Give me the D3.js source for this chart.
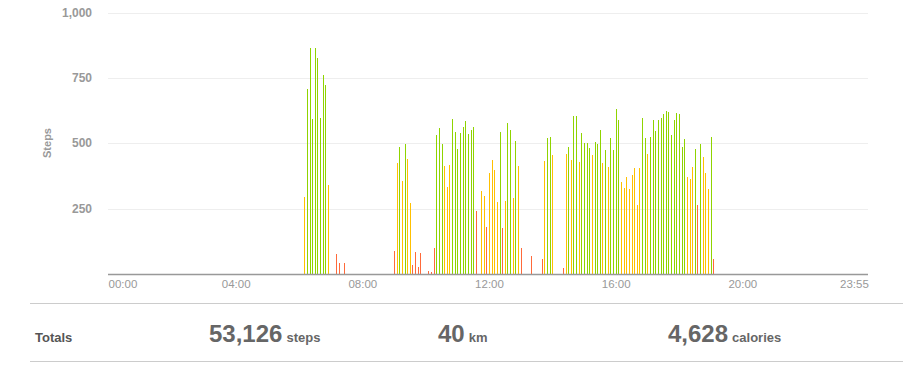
<!DOCTYPE html>
<html>
<head>
<meta charset="utf-8">
<script src="https://cdn.jsdelivr.net/npm/d3@7"></script>
<style>
  body { margin: 0; background: #fff; font-family: "Liberation Sans", Arial, sans-serif; }
  #canvas { width: 924px; height: 373px; }
</style>
</head>
<body>
<div id="canvas"></div>
<script>
// 5-minute buckets that have steps (HH:MM start of bucket)
const times = [
  "06:10","06:15","06:20","06:25","06:30","06:35","06:40","06:45","06:50","06:55","07:10","07:15","07:25",
  "09:00","09:05","09:10","09:15","09:20","09:25","09:30","09:35","09:40","09:45","09:50",
  "10:05","10:10","10:15","10:20","10:25","10:30","10:35","10:40","10:45","10:50","10:55",
  "11:00","11:05","11:10","11:15","11:20","11:25","11:30","11:35","11:45","11:50","11:55",
  "12:00","12:05","12:10","12:15","12:20","12:25","12:30","12:35","12:40","12:45","12:50","12:55",
  "13:00","13:20","13:40","13:45","13:50","13:55","14:00","14:20","14:25","14:30","14:35","14:40","14:45","14:50","14:55",
  "15:00","15:05","15:10","15:15","15:20","15:25","15:30","15:35","15:40","15:45","15:50","15:55",
  "16:00","16:05","16:10","16:15","16:20","16:25","16:30","16:35","16:40","16:45",
  "16:50","16:55","17:00","17:05","17:10","17:15","17:20","17:25","17:30","17:35","17:40","17:45",
  "17:50","17:55","18:00","18:05","18:10","18:15","18:20","18:25","18:30","18:35","18:40","18:45","18:50","18:55","19:00","19:05"
];
const steps = [
  296,707,864,593,864,826,597,761,723,340,76,42,42,
  88,426,486,357,498,440,272,36,84,28,80,
  11,8,99,533,558,497,414,333,417,593,543,
  478,539,562,585,535,551,562,241,317,298,180,
  386,436,398,275,543,176,279,577,551,291,509,413,
  99,69,57,432,520,524,455,23,459,486,436,604,604,428,539,
  501,501,482,455,505,497,551,424,474,409,520,
  474,631,589,352,329,371,325,379,405,264,405,
  597,520,459,524,589,547,589,597,612,623,619,532,
  589,616,612,486,516,371,363,409,478,264,497,447,386,325,524,57
];
// activity intensity per bucket: g = brisk, y = moderate, r = light
const intensity = [
  "y","g","g","g","g","g","g","g","g","y","r","r","r",
  "r","y","g","y","g","y","y","r","r","r","r",
  "r","r","r","g","g","g","y","y","y","g","g",
  "g","g","g","g","g","g","g","r","y","y","r",
  "y","y","y","y","g","r","y","g","g","y","g","y",
  "r","r","r","y","g","g","y","r","y","g","y","g","g","y","g",
  "g","g","g","y","g","g","g","y","g","y","g",
  "g","g","g","y","y","y","y","y","y","y","y",
  "g","g","y","g","g","g","g","g","g","g","g","g",
  "g","g","g","g","g","y","y","y","g","r","g","y","y","y","g","r"
];
const tickTimes = ["00:00","04:00","08:00","12:00","16:00","20:00","23:55"];
const yTicks = [250, 500, 750, 1000];
const totalsLabels = ["53,126", "40", "4,628"];
const totalsUnits = ["steps", "km", "calories"];

const colors = { g: "#8fd400", y: "#ffc000", r: "#ff6a3a" };

const toMinutes = (t) => {
    const p = t.split(":");
    return +p[0] * 60 + +p[1];
}

const data = times.map((t, i) => ({ t: toMinutes(t), v: steps[i], c: intensity[i] }));

const width = 924, height = 373;
const svg = d3.select("#canvas").append("svg")
    .attr("width", width)
    .attr("height", height);

const x = d3.scaleLinear().domain([0, 1440]).range([109, 869]);
const y = d3.scaleLinear().domain([0, 1000]).range([274, 12.5]);

// grid lines
svg.append("g")
    .selectAll("line")
    .data(yTicks)
    .enter()
    .append("line")
    .attr("x1", 108).attr("x2", 868)
    .attr("y1", d => Math.round(y(d)) + 0.5)
    .attr("y2", d => Math.round(y(d)) + 0.5)
    .attr("stroke", "#eeeeee");

// y labels
svg.append("g")
    .selectAll("text")
    .data(yTicks)
    .enter()
    .append("text")
    .attr("x", 92)
    .attr("y", d => y(d) + 4)
    .attr("text-anchor", "end")
    .attr("font-size", 12)
    .attr("font-weight", "bold")
    .attr("fill", "#999")
    .text(d => d3.format(",")(d));

svg.append("text")
    .attr("transform", "translate(51,143) rotate(-90)")
    .attr("text-anchor", "middle")
    .attr("font-size", 11)
    .attr("font-weight", "bold")
    .attr("fill", "#999")
    .text("Steps");

// bars
svg.append("g")
    .attr("shape-rendering", "crispEdges")
    .selectAll("rect")
    .data(data)
    .enter()
    .append("rect")
    .attr("x", d => Math.round(x(d.t)))
    .attr("width", 1)
    .attr("y", d => y(d.v))
    .attr("height", d => y(0) - y(d.v))
    .attr("fill", d => colors[d.c]);

// x axis
const xAxis = svg.append("g")
    .attr("transform", "translate(0,274)")
    .call(d3.axisBottom(x)
        .tickValues(tickTimes.map(toMinutes))
        .tickSize(0)
        .tickPadding(6)
        .tickFormat((d, i) => tickTimes[i]));
xAxis.select(".domain").remove();
xAxis.selectAll("text")
    .attr("font-family", "Liberation Sans, Arial, sans-serif")
    .attr("font-size", 11.5)
    .attr("fill", "#999")
    .attr("text-anchor", (d, i) => i === 0 ? "start" : (i === tickTimes.length - 1 ? "end" : "middle"))
    .attr("dx", (d, i) => i === 0 ? -1 : (i === tickTimes.length - 1 ? 2 : 0));
svg.append("line")
    .attr("x1", 108).attr("x2", 868)
    .attr("y1", 274.5).attr("y2", 274.5)
    .attr("stroke", "#999")
    .attr("stroke-width", 1.5);

// totals row
[303.5, 361.5].forEach(yy => {
    svg.append("line")
        .attr("x1", 30).attr("x2", 903)
        .attr("y1", yy).attr("y2", yy)
        .attr("stroke", "#cccccc");
});

svg.append("text")
    .attr("x", 35).attr("y", 342)
    .attr("font-size", 13)
    .attr("font-weight", "bold")
    .attr("fill", "#555")
    .text("Totals");

const totalsX = [209, 438, 668];
totalsLabels.forEach((lbl, i) => {
    const t = svg.append("text")
        .attr("x", totalsX[i]).attr("y", 342)
        .attr("fill", "#666")
        .attr("font-weight", "bold");
    t.append("tspan").attr("font-size", 24).text(lbl);
    t.append("tspan").attr("font-size", 13).attr("dx", 4).text(totalsUnits[i]);
});
</script>
</body>
</html>
